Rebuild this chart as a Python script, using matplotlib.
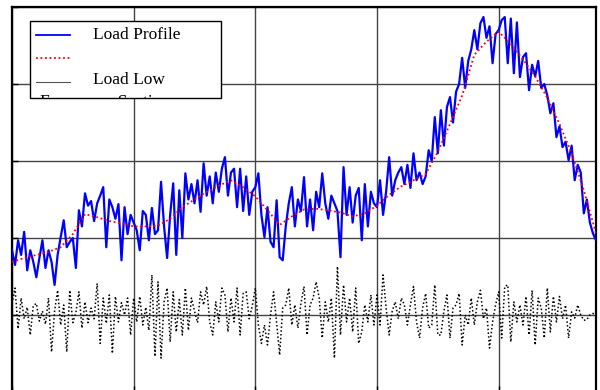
import numpy as np
import matplotlib
matplotlib.use("Agg")
import matplotlib.pyplot as plt
from matplotlib.patches import Rectangle
from matplotlib.lines import Line2D

plt.rcParams['font.family'] = ['Liberation Serif', 'DejaVu Serif']

# time axis (hours), load profile sampled every 7.5 minutes
hours_fine = np.arange(0, 24.001, 0.125)
# low frequency section sampled every half hour
hours_low = np.arange(0, 24.001, 0.5)

load_profile = [
    0.84, 0.65, 0.97, 0.78, 1.08, 0.58, 0.84, 0.69,
    0.49, 0.74, 0.97, 0.61, 0.84, 0.69, 0.39, 0.78,
    1.01, 1.23, 0.88, 0.95, 1.00, 0.61, 1.36, 1.15,
    1.58, 1.42, 1.48, 1.22, 1.45, 1.55, 1.66, 0.88,
    1.50, 1.40, 1.25, 1.44, 0.71, 1.40, 1.05, 1.30,
    1.20, 1.10, 0.84, 1.35, 1.30, 0.97, 1.39, 1.05,
    1.10, 1.73, 1.15, 0.74, 1.30, 1.71, 0.78, 1.62,
    1.00, 1.84, 1.50, 1.70, 1.45, 1.75, 1.34, 1.97,
    1.55, 1.80, 1.45, 1.85, 1.60, 1.90, 2.05, 1.55,
    1.85, 1.90, 1.40, 1.90, 1.35, 1.80, 1.30, 1.60,
    1.66, 1.84, 1.30, 1.01, 1.40, 0.95, 0.88, 1.49,
    0.75, 0.71, 1.15, 1.45, 1.66, 1.15, 1.50, 1.35,
    1.79, 1.15, 1.50, 1.10, 1.60, 1.40, 1.84, 1.45,
    1.25, 1.55, 1.45, 1.35, 0.75, 1.92, 1.30, 1.66,
    1.20, 1.55, 1.65, 0.97, 1.70, 1.15, 1.60, 1.45,
    1.40, 1.75, 1.30, 1.60, 2.05, 1.55, 1.75, 1.85,
    1.92, 1.70, 1.95, 1.65, 2.10, 1.75, 1.85, 1.70,
    1.80, 2.14, 2.00, 2.57, 2.10, 2.66, 2.20, 2.70,
    2.83, 2.50, 2.90, 3.00, 3.34, 2.95, 3.30, 3.45,
    3.70, 3.45, 3.79, 3.87, 3.60, 3.75, 3.27, 3.65,
    3.70, 3.83, 3.87, 3.27, 3.85, 3.14, 3.80, 3.09,
    3.35, 3.40, 2.92, 3.25, 3.10, 3.30, 2.95, 3.00,
    2.85, 2.62, 2.75, 2.31, 2.45, 2.18, 2.25, 2.01,
    2.20, 1.75, 1.95, 1.85, 1.32, 1.50, 1.20, 1.06,
    0.97,
]

load_low = [
    0.69, 0.74, 0.78, 0.82, 0.88, 1.05, 1.31, 1.27, 1.22, 1.19,
    1.15, 1.15, 1.16, 1.25, 1.40, 1.50, 1.60, 1.68, 1.75, 1.66,
    1.54, 1.36, 1.17, 1.28, 1.37, 1.38, 1.36, 1.33, 1.28, 1.32,
    1.42, 1.56, 1.67, 1.75, 1.83, 2.12, 2.48, 2.85, 3.38, 3.55,
    3.68, 3.52, 3.32, 3.10, 2.82, 2.48, 2.10, 1.62, 1.06,
]

load_high = [
    0.15, 0.35, -0.18, 0.22, -0.05, 0.10, -0.26, 0.12,
    0.15, -0.08, 0.05, -0.12, 0.22, -0.48, 0.05, 0.32,
    -0.13, 0.13, -0.48, 0.32, -0.10, 0.03, 0.30, -0.17,
    0.17, -0.10, 0.09, -0.05, 0.41, -0.37, 0.22, -0.11,
    0.26, -0.50, 0.24, -0.09, 0.16, 0.00, 0.22, -0.26,
    0.22, -0.09, 0.24, -0.13, 0.10, -0.20, 0.52, -0.54,
    0.43, -0.56, 0.17, 0.35, -0.35, 0.30, -0.22, 0.20,
    -0.26, 0.35, -0.20, 0.22, 0.05, -0.10, 0.30, 0.13,
    0.37, -0.09, -0.26, 0.17, -0.09, 0.35, 0.26, -0.22,
    0.22, -0.09, 0.35, -0.26, 0.28, 0.30, -0.05, 0.12,
    0.35, -0.13, -0.37, -0.13, -0.39, 0.00, 0.30, -0.10,
    -0.52, 0.09, 0.13, 0.35, -0.13, 0.13, -0.17, 0.15,
    0.37, -0.26, 0.13, 0.22, 0.43, 0.22, -0.30, 0.17,
    -0.09, 0.22, -0.56, 0.63, -0.26, 0.39, -0.09, 0.22,
    -0.22, 0.35, -0.37, -0.22, 0.13, -0.09, 0.26, -0.13,
    0.26, -0.13, 0.52, 0.09, -0.26, 0.05, 0.17, -0.05,
    0.22, 0.13, -0.13, 0.13, 0.37, -0.09, -0.30, 0.09,
    0.28, -0.17, -0.13, 0.39, -0.26, -0.26, 0.05, 0.26,
    -0.30, 0.09, 0.13, 0.28, -0.39, 0.00, -0.13, 0.22,
    -0.13, 0.17, 0.32, -0.05, 0.09, -0.43, -0.09, 0.13,
    0.30, -0.30, 0.37, 0.39, -0.35, 0.17, -0.09, 0.13,
    -0.13, 0.24, -0.26, 0.32, -0.39, 0.22, 0.09, -0.30,
    0.35, -0.22, 0.24, -0.09, 0.24, -0.05, 0.13, -0.30,
    0.04, -0.04, 0.13, 0.00, -0.07, -0.06, 0.00, 0.02,
    0.00,
]

fig = plt.figure(figsize=(6, 3.9), dpi=100)
ax = fig.add_axes([0.02, -0.005, 0.9733, 0.987])

ax.plot(hours_fine, load_profile, color='blue', linewidth=1.6, zorder=3)
ax.plot(hours_low, load_low, color='red', linestyle=(0, (1, 1.5)), linewidth=1.3, zorder=4)
ax.plot(hours_fine, load_high, color='black', linestyle=(0, (1, 1.5)), linewidth=1.1, zorder=3)

ax.set_xlim(0, 24)
ax.set_ylim(-1, 4)
ax.set_xticks([0, 5, 10, 15, 20])
ax.set_yticks([-1, 0, 1, 2, 3, 4])
ax.set_xticklabels([])
ax.set_yticklabels([])
ax.tick_params(which='both', direction='in', length=4, width=1, colors='black')
ax.grid(True, color='#444444', linewidth=1.0)
ax.set_axisbelow(True)
for sp in ax.spines.values():
    sp.set_color('black')
    sp.set_linewidth(1.6)

# legend drawn by hand, the box clips the wrapped second line
box = Rectangle((0.0308, 0.7636), 0.3272, 0.2, transform=ax.transAxes,
                facecolor='white', edgecolor='black', linewidth=1.0, zorder=6)
ax.add_patch(box)
handles = [
    ('blue', '-', 1.3, 0.927),
    ('red', (0, (1, 1.5)), 1.3, 0.8675),
    ('#555555', '-', 0.8, 0.805),
]
for col, ls, lw, yy in handles:
    ax.add_line(Line2D([0.041, 0.099], [yy, yy], transform=ax.transAxes,
                       color=col, linestyle=ls, linewidth=lw, zorder=7))
t1 = ax.text(0.1387, 0.927, 'Load Profile', transform=ax.transAxes,
             fontsize=12.5, va='center', ha='left', zorder=7, clip_on=True)
t2 = ax.text(0.1387, 0.81, 'Load Low', transform=ax.transAxes,
             fontsize=12.5, va='center', ha='left', zorder=7, clip_on=True)
t3 = ax.text(0.048, 0.775, 'Frequency Section', transform=ax.transAxes,
             fontsize=12.5, va='top', ha='left', zorder=7, clip_on=True)
for t in (t1, t2, t3):
    t.set_clip_path(box)

fig.savefig('out.png', dpi=100)
